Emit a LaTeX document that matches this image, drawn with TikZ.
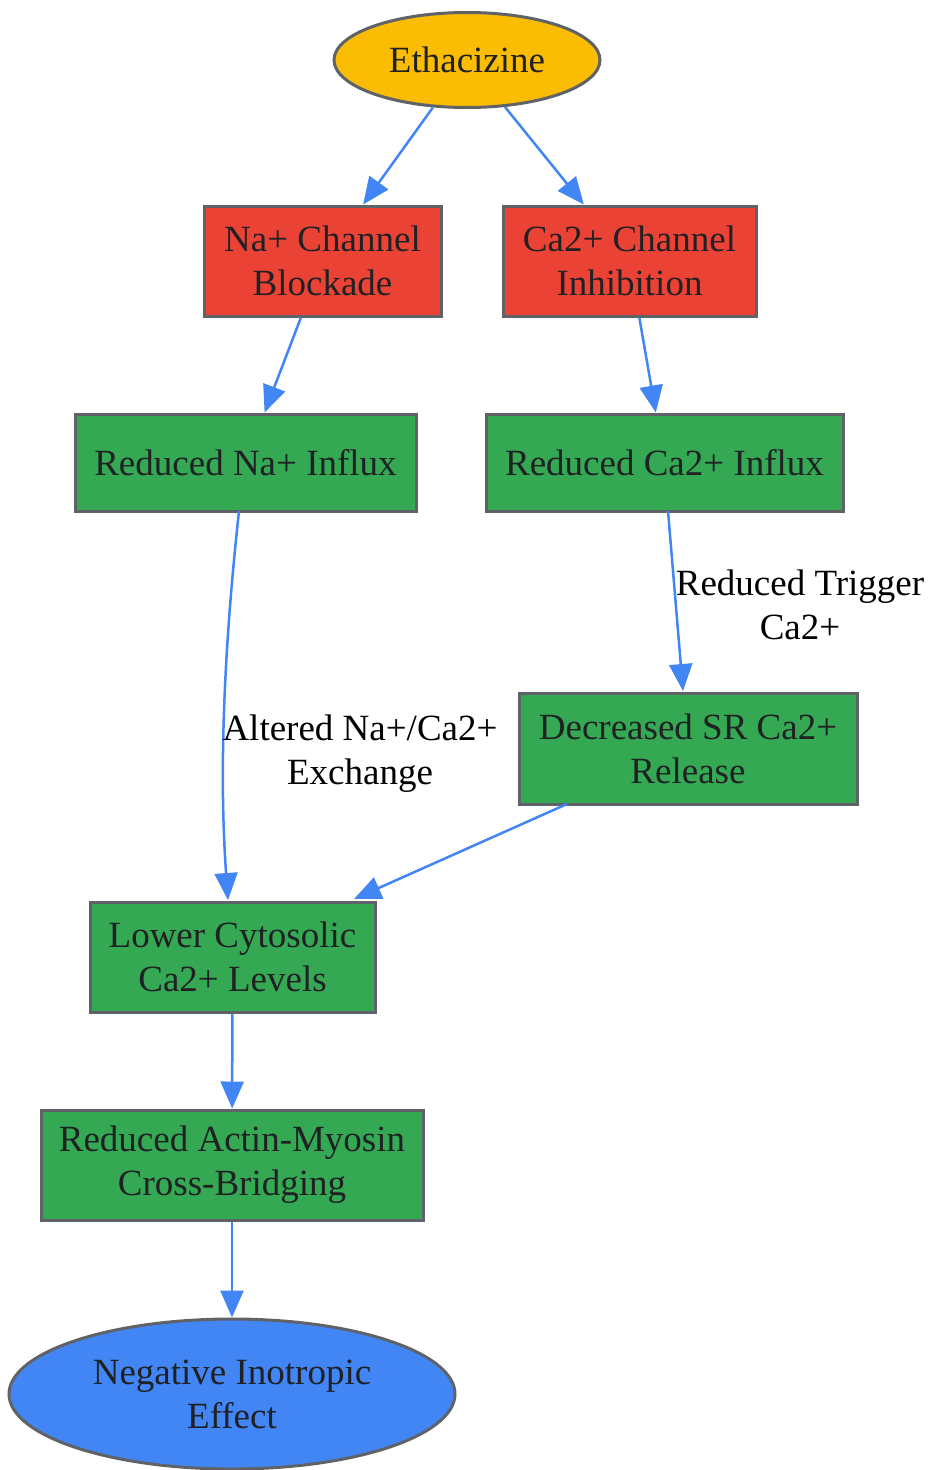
\documentclass[tikz,border=0pt]{standalone}
\usepackage{fontspec}
\setmainfont{Liberation Serif}
\usetikzlibrary{arrows.meta,shapes.geometric}
\definecolor{gold}{HTML}{FBBC04}
\definecolor{gred}{HTML}{EA4335}
\definecolor{ggreen}{HTML}{34A853}
\definecolor{gblue}{HTML}{4285F4}
\definecolor{gborder}{HTML}{5F6368}
\definecolor{gtext}{HTML}{202124}
\tikzset{
  base/.style={draw=gborder, line width=3pt, text=gtext, align=center, inner sep=0pt,
    font=\fontsize{37}{44}\selectfont},
  oval/.style={base, ellipse},
  box/.style={base, rectangle},
  conn/.style={gblue, line width=2.5pt, -{Triangle[length=27pt,width=23pt]}},
  elabel/.style={align=center, text=black, font=\fontsize{37}{44}\selectfont}
}
\begin{document}
\begin{tikzpicture}[x=1pt,y=-1pt]
\useasboundingbox (0,0) rectangle (927,1470);
\node[oval, fill=gold, minimum width=266pt, minimum height=95pt] (eth) at (467,60) {Ethacizine};
\node[box, fill=gred, minimum width=237pt, minimum height=110pt] (na) at (322.5,261) {Na+ Channel\\Blockade};
\node[box, fill=gred, minimum width=253pt, minimum height=110pt] (ca) at (629.5,261) {Ca2+ Channel\\Inhibition};
\node[box, fill=ggreen, minimum width=341pt, minimum height=97pt] (rna) at (245.5,462.5) {Reduced Na+ Influx};
\node[box, fill=ggreen, minimum width=357pt, minimum height=97pt] (rca) at (664.5,462.5) {Reduced Ca2+ Influx};
\node[box, fill=ggreen, minimum width=338pt, minimum height=111pt] (sr) at (688,748.5) {Decreased SR Ca2+\\Release};
\node[box, fill=ggreen, minimum width=285pt, minimum height=110pt] (low) at (232.5,957) {Lower Cytosolic\\Ca2+ Levels};
\node[box, fill=ggreen, minimum width=382pt, minimum height=110pt] (act) at (232,1165) {Reduced Actin-Myosin\\Cross-Bridging};
\node[oval, fill=gblue, minimum width=446pt, minimum height=150pt] (neg) at (232,1394) {Negative Inotropic\\Effect};

\coordinate (rnaS) at (239,511);
\coordinate (lowN) at (228,900);
\coordinate (rcaS) at (668,511);
\coordinate (srN) at (683,691);
\coordinate (srS) at (567,804);
\coordinate (lowNE) at (354,899);

\draw[conn] (eth) -- (na);
\draw[conn] (eth) -- (ca);
\draw[conn] (na) -- (rna);
\draw[conn] (ca) -- (rca);
\draw[conn] (rnaS) .. controls (226,630) and (218,760) .. (lowN);
\draw[conn] (rcaS) -- (srN);
\draw[conn] (srS) -- (lowNE);
\draw[conn] (low) -- (act);
\draw[conn] (act) -- (neg);

\node[elabel] (l1) at (360,754) {Altered Na+/Ca2+\\Exchange};
\node[elabel] (l2) at (800,605) {Reduced Trigger\\Ca2+};
\end{tikzpicture}
\end{document}
